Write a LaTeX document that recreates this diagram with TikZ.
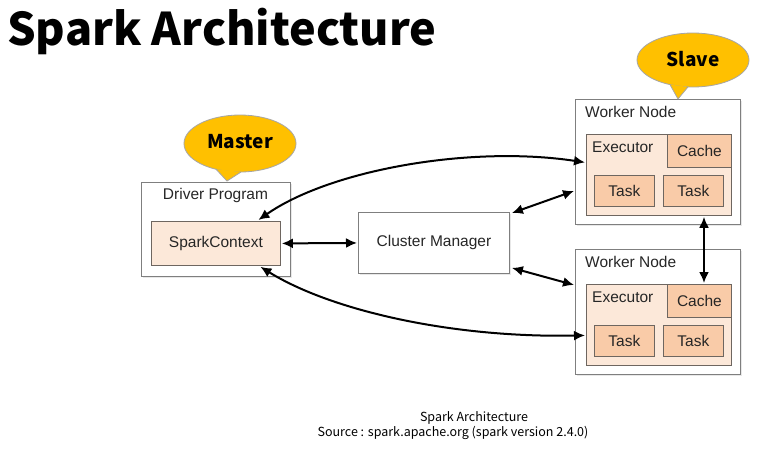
\documentclass[tikz,border=0pt]{standalone}
\usepackage{fontspec}
\setmainfont{Liberation Sans}
\newfontfamily\cjkfont{Noto Sans CJK KR}
\usetikzlibrary{arrows.meta,shadows}
\definecolor{bubblefill}{HTML}{FFC000}
\definecolor{bubbleline}{HTML}{A6A6A6}
\definecolor{lightpeach}{HTML}{FCE8D9}
\definecolor{darkpeach}{HTML}{F9CBA8}
\definecolor{outerline}{HTML}{7F7F7F}
\definecolor{innerline}{HTML}{6E6660}
\begin{document}
\begin{tikzpicture}[x=1pt,y=-1pt,
  outerbox/.style={draw=outerline, line width=0.9pt, fill=white, anchor=north west, inner sep=0pt,
    drop shadow={opacity=0.18, shadow xshift=1.2pt, shadow yshift=-1.2pt}},
  innerbox/.style={draw=innerline, line width=0.8pt, anchor=north west, inner sep=0pt},
  lbl/.style={font=\fontsize{15.5}{17}\selectfont, text=black!85, inner sep=0pt},
  arr/.style={line width=2pt, {Latex[length=11pt,width=10pt]}-{Latex[length=11pt,width=10pt]}},
  bubble/.style={fill=bubblefill, draw=bubbleline, line width=0.8pt},
]
\useasboundingbox (0,0) rectangle (761,451);
\fill[white] (0,0) rectangle (761,451);

% title
\node[anchor=base west, inner sep=0pt, font=\cjkfont\bfseries\fontsize{45}{50}\selectfont] (title) at (7,45) {Spark Architecture};

% Driver program
\node[outerbox, minimum width=149pt, minimum height=94pt] (drv) at (141,182) {};
\node[lbl] (drvl) at (215.5,195) {Driver Program};
\node[innerbox, fill=lightpeach, minimum width=129pt, minimum height=44pt] (sc) at (151,221) {};
\node[lbl] (scl) at (sc.center) {SparkContext};

% Cluster manager
\node[outerbox, minimum width=151pt, minimum height=61pt] (cm) at (358,212) {};
\node[lbl] (cml) at (cm.center) {Cluster Manager};

% Worker nodes
\foreach \i/\y in {1/99, 2/249} {
  \node[outerbox, minimum width=165pt, minimum height=125pt] (wn\i) at (575,\y) {};
  \node[lbl, anchor=west] (wnl\i) at (585,\y+13) {Worker Node};
  \node[innerbox, fill=lightpeach, minimum width=145pt, minimum height=81pt] (ex\i) at (586,\y+35) {};
  \node[lbl, anchor=west] (exl\i) at (592,\y+48) {Executor};
  \node[innerbox, fill=darkpeach, minimum width=64pt, minimum height=33pt] (ca\i) at (667,\y+35) {};
  \node[lbl] (cal\i) at (ca\i.center) {Cache};
  \node[innerbox, fill=darkpeach, minimum width=60pt, minimum height=31pt] (ta\i) at (594,\y+76) {};
  \node[lbl] (tal\i) at (ta\i.center) {Task};
  \node[innerbox, fill=darkpeach, minimum width=60pt, minimum height=31pt] (tb\i) at (663,\y+76) {};
  \node[lbl] (tbl\i) at (tb\i.center) {Task};
}

% Master bubble
\draw[bubble] (240,143.5) ellipse [x radius=56, y radius=28.5];
\coordinate (mtip) at (227,181);
\fill[bubblefill] (216,169.2) -- (mtip) -- (241,172) -- cycle;
\draw[bubbleline, line width=0.8pt, line join=round] (216,169.2) -- (mtip) -- (241,172);
\node[inner sep=0pt, font=\cjkfont\bfseries\fontsize{19}{21}\selectfont] (master) at (240,142) {Master};

% Slave bubble
\draw[bubble] (693,60) ellipse [x radius=56, y radius=27];
\coordinate (stip) at (678,99);
\fill[bubblefill] (670,84.6) -- (stip) -- (688,86.9) -- cycle;
\draw[bubbleline, line width=0.8pt, line join=round] (670,84.6) -- (stip) -- (688,86.9);
\node[inner sep=0pt, font=\cjkfont\bfseries\fontsize{19}{21}\selectfont] (slave) at (693,59) {Slave};

% connectors
\draw[arr] ([xshift=1pt]sc.east) -- ([xshift=-1pt]cm.west);
\draw[arr] ([xshift=2pt,yshift=-1pt]cm.north east) -- ([xshift=-1pt,yshift=-29pt]wn1.west);
\draw[arr] ([xshift=2pt,yshift=6pt]cm.south east) -- ([xshift=-1pt,yshift=27pt]wn2.west);
\draw[arr] ([xshift=42.5pt,yshift=1pt]sc.north) .. controls (330,170) and (470,145) .. ([xshift=-1pt,yshift=12.5pt]ex1.west);
\draw[arr] ([xshift=44.5pt,yshift=-1pt]sc.south) .. controls (330,310) and (450,338) .. ([xshift=-1pt,yshift=-10.5pt]ex2.west);
\draw[arr] ([yshift=-1pt]ex1.south -| 704,0) -- ([yshift=1pt]ca2.north -| 704,0);

% caption
\node[inner sep=0pt, anchor=base, font=\cjkfont\fontsize{12.5}{14}\selectfont] (cap1) at (474,421) {Spark Architecture};
\node[inner sep=0pt, anchor=base, font=\cjkfont\fontsize{12.5}{14}\selectfont] (cap2) at (453,436) {Source : spark.apache.org (spark version 2.4.0)};
\end{tikzpicture}
\end{document}
